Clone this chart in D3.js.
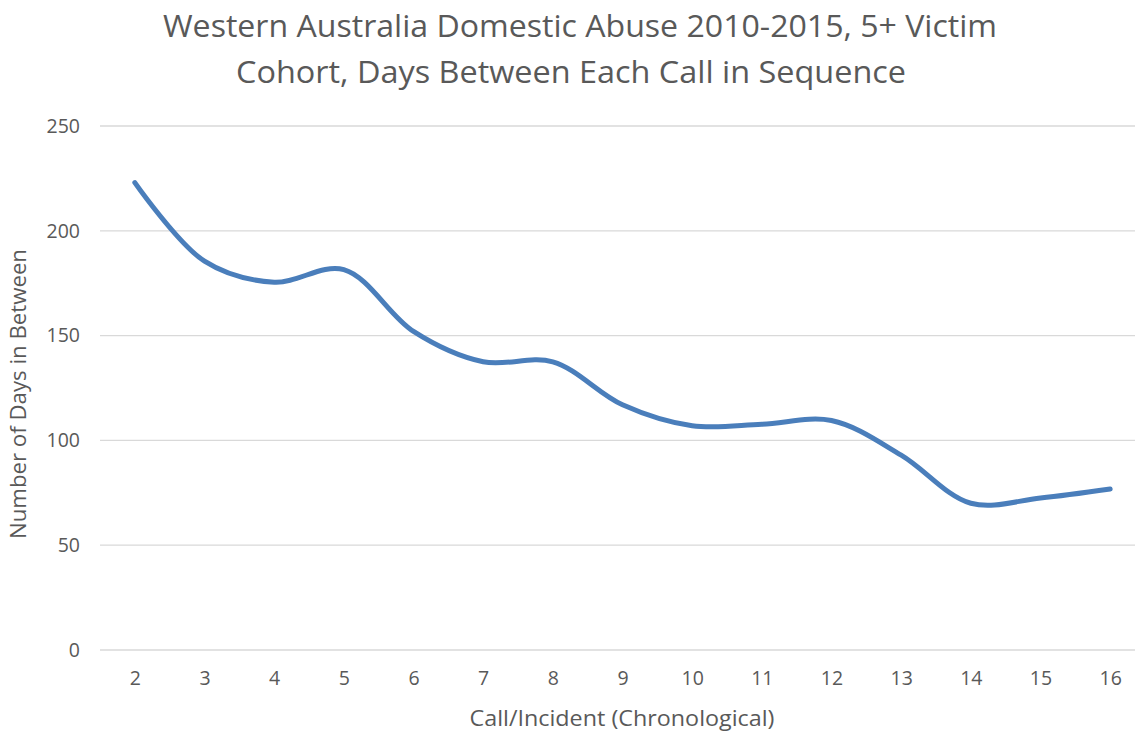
<!DOCTYPE html>
<html>
<head>
<meta charset="utf-8">
<script src="https://cdnjs.cloudflare.com/ajax/libs/d3/7.8.5/d3.min.js"></script>
<style>
  body { margin: 0; background: #fff; }
  svg text { font-family: "Open Sans", "Noto Sans", sans-serif; fill: #595959; }
</style>
</head>
<body>
<svg id="chart"></svg>
<script>
var width = 1135;
var height = 733;

// call number in the sequence
var calls = ["2", "3", "4", "5", "6", "7", "8", "9", "10", "11", "12", "13", "14", "15", "16"];
// average days between each call
var days = [223, 185.5, 175.5, 181.5, 152, 137.5, 137.5, 117, 107, 107.7, 109.5, 93, 70, 72.5, 76.8];
var yTicks = [0, 50, 100, 150, 200, 250];

var titleLines = ["Western Australia Domestic Abuse 2010-2015, 5+ Victim",
                  "Cohort, Days Between Each Call in Sequence"];

var margin = {top: 126, left: 100, bottom: 83};

var svg = d3.select("#chart")
    .attr("width", width)
    .attr("height", height);

var x = d3.scalePoint()
    .domain(calls)
    .range([margin.left, 1145])
    .padding(0.5);

var y = d3.scaleLinear()
    .domain([0, 250])
    .range([height - margin.bottom, margin.top]);

// gridlines
svg.append("g")
  .selectAll("line")
  .data(yTicks)
  .enter().append("line")
    .attr("x1", margin.left)
    .attr("x2", 1145)
    .attr("y1", function(d) { return y(d); })
    .attr("y2", function(d) { return y(d); })
    .style("stroke", "#d9d9d9")
    .style("stroke-width", 1.3);

// y axis labels
var yAxis = svg.append("g")
    .attr("transform", "translate(" + margin.left + ",0)")
    .call(d3.axisLeft(y).tickValues(yTicks).tickSize(0).tickPadding(20));
yAxis.select(".domain").remove();
yAxis.selectAll("text")
    .style("font-size", "19.5px")
    .style("font-family", null)
    .attr("fill", null);

// x axis labels
var xAxis = svg.append("g")
    .attr("transform", "translate(0," + y(0) + ")")
    .call(d3.axisBottom(x).tickSize(0).tickPadding(21));
xAxis.select(".domain").remove();
xAxis.selectAll("text")
    .style("font-size", "19.5px")
    .style("font-family", null)
    .attr("fill", null);

// the series line
var line = d3.line()
    .x(function(d, i) { return x(calls[i]); })
    .y(function(d) { return y(d); })
    .curve(d3.curveCatmullRom.alpha(0.5));

svg.append("path")
    .datum(days)
    .attr("d", line)
    .style("fill", "none")
    .style("stroke", "#4a7ebb")
    .style("stroke-width", 5)
    .style("stroke-linecap", "round")
    .style("stroke-linejoin", "round");

// title
svg.append("text")
    .attr("x", 580)
    .attr("y", 37)
    .attr("text-anchor", "middle")
    .attr("textLength", 834)
    .attr("lengthAdjust", "spacingAndGlyphs")
    .style("font-size", "31px")
    .text(titleLines[0]);
svg.append("text")
    .attr("x", 571)
    .attr("y", 83)
    .attr("text-anchor", "middle")
    .attr("textLength", 670)
    .attr("lengthAdjust", "spacingAndGlyphs")
    .style("font-size", "31px")
    .text(titleLines[1]);

// axis titles
svg.append("text")
    .attr("x", 622)
    .attr("y", 726)
    .attr("text-anchor", "middle")
    .attr("textLength", 305)
    .attr("lengthAdjust", "spacingAndGlyphs")
    .style("font-size", "22px")
    .text("Call/Incident (Chronological)");

svg.append("text")
    .attr("transform", "translate(26," + (y(125) + 6) + ") rotate(-90)")
    .attr("text-anchor", "middle")
    .attr("textLength", 290)
    .attr("lengthAdjust", "spacingAndGlyphs")
    .style("font-size", "22px")
    .text("Number of Days in Between");
</script>
</body>
</html>
